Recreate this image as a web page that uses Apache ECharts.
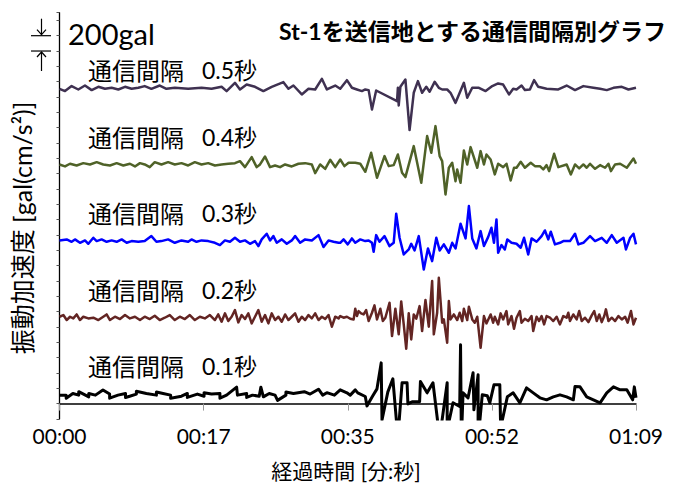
<!DOCTYPE html>
<html>
<head>
<meta charset="utf-8">
<title>St-1を送信地とする通信間隔別グラフ</title>
<script src="https://cdn.jsdelivr.net/npm/echarts@6/dist/echarts.min.js"></script>
<style>
    html, body { margin: 0; padding: 0; background: #fff; }
    #chart { width: 680px; height: 486px; }
</style>
</head>
<body>
<div id="chart"></div>
<script>
    // 経過時間 [s] と 振動加速度 [gal]（各系列の基線からの値）
    const t05 = [0, 0.66, 1.45, 2.25, 3.05, 3.85, 4.65, 5.44, 6.24, 7.04, 7.84, 8.63, 9.43, 10.2, 11.0, 12.0, 12.8, 13.8, 15.4, 17.0, 18.2, 19.4, 20.0, 21.0, 21.6, 22.4, 23.4, 24.4, 25.4, 26.8, 27.4, 28.0, 29.0, 29.8, 30.6, 31.4, 32.0, 33.0,
        33.6, 34.4, 35.0, 35.6, 36.2, 36.6, 37.0, 37.4, 37.9, 40.4, 40.5, 40.6, 40.8, 41.4, 41.9, 42.4, 42.9, 43.4, 43.9, 44.3, 44.9, 45.4, 45.8, 46.4, 46.8, 47.4, 48.4, 48.8, 49.4, 50.2,
        51.0, 51.8, 52.5, 53.1, 53.8, 54.3, 54.7, 55.3, 55.7, 56.3, 56.8, 57.3, 58.3, 59.7, 60.7, 61.7, 62.7, 63.9, 64.7, 65.5, 66.3, 67.3, 68.1, 69.0];
    const v05 = [-13, -43, 22, -22, 30, -30, 13, -13, 0, -22, 13, -13, 0, 22, -13, 30, -13, 0, -13, 0, -13, 13, -43, 65, -22, 43, 13, -43, 13, 74, -13, 30, -87, -13, -22, 117, -22, 30,
        -13, 100, 0, -22, -43, -22, -30, -283, -35, -174, 0, -230, 13, 109, -552, -65, 87, -65, 13, -52, 78, 0, -22, -22, -65, -196, 65, -130, 0, 0,
        -43, 22, 57, 43, -87, -13, -22, 30, -30, -22, 100, 13, -13, -22, 30, -30, 22, 0, -13, -30, 0, 13, -22, 0];

    const t04 = [0, 0.66, 1.26, 2.05, 2.85, 3.65, 4.45, 5.24, 6.04, 6.84, 7.64, 8.43, 9.03, 9.63, 10.2, 10.8, 11.4, 12.2, 13.0, 13.8, 14.6, 15.4, 16.2, 17.0, 17.8, 18.6, 19.4, 20.2, 21.0, 21.6,
        22.2, 23.0, 23.6, 24.0, 24.6, 25.2, 25.8, 26.4, 27.0, 27.8, 28.6, 29.4, 30.2, 30.6, 31.2, 31.8, 32.4, 33.0,
        33.6, 34.1, 34.6, 35.4, 36.0, 36.6, 37.3, 38.0, 38.9, 39.4, 40.0, 40.5, 41.0, 41.4, 42.4, 43.3, 44.0, 44.5, 45.0, 45.5, 45.8, 46.2, 46.6, 47.0, 47.4, 47.6, 48.0, 48.4, 48.8, 49.2,
        50.0, 50.4, 50.8, 51.1, 51.6, 52.1, 52.5, 53.1, 53.5, 54.0, 54.4, 54.7, 55.2, 55.7, 56.4, 56.9, 57.5, 57.9, 58.3, 58.6, 59.2, 59.7, 60.7, 61.2, 61.7, 62.2, 62.7, 63.1, 63.5, 64.1,
        64.7, 65.3, 65.7, 66.0, 66.5, 67.1, 67.9, 68.7, 69.0];
    const v04 = [0, -26, 9, -13, 17, 0, 30, 0, -13, 17, -13, 9, -26, 17, 0, -35, 30, 0, 30, 0, 17, -13, 30, 0, 17, -13, 0, 9, 17, 43,
        -35, 96, -35, 0, 104, -35, -13, -35, 0, -26, 9, 17, 0, -113, 0, -57, 61, -35,
        65, -22, 22, 22, 9, -96, 152, -174, 109, -22, -9, 130, -109, -165, 239, -239, 370, 152, 500, 109, 43, -392, -43, 22, -218, -65, -239, 183, 0, 226,
        -43, 174, 0, 130, 65, -130, 9, -35, 9, -209, -43, -43, 35, -43, 22, -22, -22, -65, -9, -87, 139, -35, 0, -130, 0, -52, 0, -43, 9, -57,
        -9, -43, 9, -87, 0, 9, -43, 78, 9];

    const t03 = [0, 0.86, 1.45, 1.85, 2.45, 3.05, 3.45, 4.05, 4.45, 5.04, 5.64, 6.24, 6.84, 7.44, 8.04, 8.63, 9.43, 10.2, 11.0, 11.6, 12.2, 13.0, 13.8, 14.6, 15.4, 15.8, 16.4, 17.0, 17.8, 18.6,
        19.2, 19.8, 20.4, 21.0, 21.6, 22.2, 22.8, 23.4, 23.8, 24.2, 24.8, 25.2, 25.6, 26.0, 26.6, 27.2, 27.8, 28.2, 28.8, 29.4, 30.2, 31.0, 31.6, 32.2, 32.8, 33.4,
        33.6, 34.0, 34.5, 35.0, 35.4, 36.0, 36.6, 37.0, 37.4, 37.6, 37.9, 38.3, 38.9, 39.5, 40.0, 40.3, 40.7, 41.2, 41.8, 42.1, 42.5, 43.0, 43.6, 44.1, 44.6, 45.1, 45.5, 46.0, 46.6, 47.0,
        47.4, 48.0, 48.6, 49.0, 49.4, 49.9, 50.4, 50.8, 51.3, 51.7, 52.0, 52.3, 52.5, 52.9, 53.3, 53.6, 54.1, 54.7, 55.2, 55.6, 56.1, 56.5, 57.1, 57.7, 58.1, 58.5, 58.8, 59.3, 59.9, 60.3,
        61.1, 61.7, 62.1, 62.7, 63.5, 64.1, 64.9, 65.5, 66.1, 66.7, 67.5, 67.8, 68.3, 68.7, 69.0];
    const v03 = [9, 22, -9, 22, -22, 9, -35, 43, 0, 22, -9, 9, -9, 22, -22, 0, -9, 0, 65, -9, 0, 22, -22, 9, -9, 22, -9, 9, 0, -22,
        -52, 9, -9, 43, -9, 9, -35, 0, -65, 22, 96, 9, 65, -22, 22, -35, 9, 65, -22, 22, 9, 78, -78, 9, -9, -22,
        -22, 22, -43, 35, -22, 22, 0, 9, -22, -139, 78, -9, 65, -65, -22, 357, 43, -174, -109, -35, -122, 65, -370, -96, -261, 43, -122, -43, -152, -22,
        -96, 226, 35, 457, 35, -96, 130, -65, 52, 174, -22, 283, -152, -52, -109, 22, -22, -35, -87, 43, -174, 35, -9, 65, 139, 22, 122, -43, -22, 0,
        0, 96, -43, -22, 65, 0, 43, -22, 78, -22, 43, -109, 43, 96, -43];

    const t02 = [0, 0.46, 0.86, 1.26, 1.65, 2.05, 2.45, 2.85, 3.45, 4.05, 4.65, 5.24, 5.64, 6.04, 6.64, 7.24, 7.84, 8.43, 9.03, 9.63, 10.2, 10.8, 11.4, 12.0, 12.6, 13.2, 13.8, 14.4, 15.0, 15.6,
        16.2, 16.8, 17.4, 18.0, 18.6, 19.0, 19.4, 19.8, 20.2, 20.6, 21.0, 21.4, 21.8, 22.2, 22.6, 23.0, 23.4, 23.8, 24.2, 24.6, 25.0, 25.4, 25.8, 26.2, 26.6, 27.0, 27.4, 27.8, 28.2, 28.6,
        29.0, 29.4, 29.8, 30.2, 30.6, 31.0, 31.4, 31.8, 32.2, 32.6, 33.0, 33.4,
        33.6, 34.0, 34.4, 34.8, 35.2, 35.4, 35.6, 35.8, 36.1, 36.4, 36.7, 37.0, 37.4, 37.7, 38.0, 38.4, 38.7, 39.0, 39.5, 39.8, 40.2, 40.6, 40.9, 41.2, 41.5, 41.8, 42.1, 42.4, 42.7, 43.1,
        43.4, 43.8, 44.2, 44.6, 44.8, 45.2, 45.4, 45.8, 46.0, 46.4, 46.6, 46.8, 47.2, 47.6, 47.9, 48.2, 48.4, 48.8, 49.0, 49.4, 49.7, 50.0, 50.4, 50.8, 51.1, 51.6, 51.9, 52.1, 52.5, 52.8,
        53.1, 53.5, 53.7, 54.1, 54.4, 54.7, 55.1, 55.3, 55.7, 56.1, 56.5, 56.7, 57.1, 57.4, 57.7, 58.0, 58.3, 58.7, 59.1, 59.5, 59.9, 60.3, 60.7, 60.9, 61.1, 61.5, 61.9, 62.2, 62.5, 62.9,
        63.3, 63.7, 64.0, 64.3, 64.6, 64.9, 65.2, 65.4, 65.7, 66.1, 66.5, 66.9, 67.3, 67.7, 68.0, 68.4, 68.7, 69.0];
    const v02 = [13, 35, -30, 13, -9, 43, -30, 13, -9, 0, -30, 13, 43, -30, 13, -17, 35, -9, 13, -30, 13, -17, 26, -30, 0, 35, -30, 13, -17, 35,
        -30, 13, -9, 35, -30, 43, -52, 57, -43, 13, 100, -61, 35, -17, 57, -74, 13, 100, -52, 35, -74, 57, -30, 13, -52, 43, -30, 13, 57, -52,
        13, -30, 35, -9, 57, -30, 13, -17, 35, -117, 13, -9,
        22, 0, 13, -13, -22, 117, 22, 87, 57, 43, 100, -43, 65, 161, -22, 117, -43, 0, 196, -239, 117, -217, 213, -87, -405, 57, -283, 43, -13, 152,
        -174, 231, -117, 479, -217, 65, 522, -65, -22, -326, 217, -22, 43, -30, 65, -43, 117, -30, 144, -22, -65, 13, -392, 22, -74, 43, -65, 13, -87, 57,
        -22, 87, -87, 22, -144, 0, 87, -65, -13, -43, 22, -174, 13, -43, 22, -87, 22, 0, -43, 13, -87, 22, 0, 65, -43, 43, -22, 87, -43, 0,
        -57, 30, 87, -43, 43, -57, 22, 109, -43, 0, -43, 22, -22, 13, -65, 87, -87, 0];

    const t01 = [0, 0.8, 0.8, 1.6, 2.3, 2.3, 3.5, 3.5, 4.3, 5.2, 6.0, 6.0, 7.0, 7.9, 7.9, 8.4, 9.2, 9.2, 10.4, 11.6, 11.6, 12.4, 13.3, 13.3, 14.6, 15.3, 15.3, 16.5, 17.3, 17.3,
        18.2, 19.2, 19.2, 20.0, 21.2, 21.3, 22.4, 22.4, 23.1, 23.9, 24.1, 24.4, 25.1, 25.8, 26.1, 27.1, 27.1, 28.0, 29.3, 30.0, 31.0, 31.5, 32.0, 32.9,
        33.6, 34.4, 34.8, 35.4, 35.7, 36.6, 36.8, 37.5, 38.0, 38.5, 38.6, 39.3, 39.9, 40.5, 41.0, 41.6, 41.7, 42.2, 43.1, 43.2, 44.0, 44.7, 45.5, 46.4, 46.4, 47.1, 47.9, 48.0, 48.1, 48.3,
        48.9, 49.5, 49.6, 50.1, 50.1, 50.6, 51.2, 51.5, 52.0, 52.7, 52.8, 53.6, 54.3, 55.1, 55.9, 56.7, 57.5, 58.3, 59.1, 59.9, 60.7, 61.5, 61.7, 62.3, 63.1, 63.9, 64.7, 65.5, 66.3, 67.1,
        67.9, 68.6, 68.8, 69.0];
    const v01 = [0, 0, -40, 22, 0, 45, -22, 22, 0, 68, 14, -40, 0, 22, -30, -14, 14, 50, 22, 0, 40, 22, 0, -40, -14, 22, -30, 14, -14, 30,
        14, 22, -40, 0, 104, 0, 22, -30, 0, -14, 104, -22, 22, 0, -68, 0, 40, 22, 45, 14, 77, 0, 32, 0,
        69, 30, 0, 69, 30, -18, -140, -9, 82, 421, -323, 43, 213, -558, 161, 161, -114, -87, -87, 177, 30, 161, -558, 161, -453, -100, -149, 656, -584, 30,
        -35, 291, -192, 265, -584, 4, -9, -100, 134, 134, -427, -22, 30, -100, 95, 30, -35, -61, -22, 4, -22, -61, 112, 108, -22, -61, -100, 30, 108, 69,
        69, -61, 108, -35];

    // 系列ごとの縦方向オフセット [gal]
    const seriesNames = ['通信間隔 0.5秒', '通信間隔 0.4秒', '通信間隔 0.3秒', '通信間隔 0.2秒', '通信間隔 0.1秒'];
    const intervals = ['0.5秒', '0.4秒', '0.3秒', '0.2秒', '0.1秒'];
    const offsets = [4120, 3120, 2120, 1120, 110];
    const colors = ['#3F3151', '#4F6228', '#0000FF', '#632523', '#000000'];
    const xTickLabels = ['00:00', '00:17', '00:35', '00:52', '01:09'];

    const FONT = 'Lato, "Noto Sans CJK JP", sans-serif';

    let chart = echarts.init(document.getElementById('chart'), null, { renderer: 'svg' });

    const times = [t05, t04, t03, t02, t01];
    const values = [v05, v04, v03, v02, v01];

    let series = times.map(function(t, k) {
        return {
            name: seriesNames[k],
            type: 'line',
            showSymbol: false,
            symbol: 'none',
            lineStyle: { color: colors[k], width: k === 4 ? 3 : 2.5, join: 'round' },
            z: 2 + k,
            data: t.map(function(x, i) {
                return [x, values[k][i] + offsets[k]];
            })
        };
    });

    let option = {
        animation: false,
        grid: { left: 59.5, right: 44, top: 12.7, bottom: 67.1, containLabel: false },
        xAxis: {
            type: 'value',
            min: 0,
            max: 69,
            interval: 17.25,
            axisLine: { onZero: true, lineStyle: { color: '#000', width: 1.5 } },
            axisTick: { show: true, inside: false, length: 7, lineStyle: { color: '#999', width: 1 } },
            axisLabel: {
                margin: 6,
                fontSize: 21,
                fontFamily: FONT,
                color: '#000',
                formatter: function(v) {
                    return xTickLabels[Math.round(v / 17.25)];
                }
            },
            splitLine: { show: false }
        },
        yAxis: {
            type: 'value',
            min: -200,
            max: 5100,
            interval: 200,
            axisLine: { show: true, lineStyle: { color: '#000', width: 1.3 } },
            axisTick: { show: true, inside: false, length: 3, lineStyle: { color: '#555' } },
            axisLabel: { show: false },
            splitLine: { show: false }
        },
        series: series
    };
    chart.setOption(option);

    // 200gal スケール（4800 と 4600 の位置）
    const yTop = chart.convertToPixel({ yAxisIndex: 0 }, 4800);
    const yBot = chart.convertToPixel({ yAxisIndex: 0 }, 4600);
    const ax = 41.5;
    const lineStyle = { stroke: '#000', lineWidth: 1.2, fill: null };

    const labelY = [70, 137, 213, 290, 366];

    let graphic = [
        { type: 'line', shape: { x1: 31, y1: yTop, x2: 51, y2: yTop }, style: lineStyle, silent: true },
        { type: 'line', shape: { x1: 31, y1: yBot, x2: 51, y2: yBot }, style: lineStyle, silent: true },
        { type: 'line', shape: { x1: ax, y1: yTop - 17, x2: ax, y2: yTop - 1 }, style: lineStyle, silent: true },
        { type: 'polyline', shape: { points: [[ax - 4.5, yTop - 6], [ax, yTop - 1], [ax + 4.5, yTop - 6]] }, style: lineStyle, silent: true },
        { type: 'line', shape: { x1: ax, y1: yBot + 1, x2: ax, y2: yBot + 20 }, style: lineStyle, silent: true },
        { type: 'polyline', shape: { points: [[ax - 4.5, yBot + 6], [ax, yBot + 1], [ax + 4.5, yBot + 6]] }, style: lineStyle, silent: true },
        {
            type: 'text', x: 68, y: 33,
            style: { text: '200gal', font: '29px ' + FONT, fill: '#000', textAlign: 'left', textVerticalAlign: 'middle' }
        },
        {
            type: 'text', x: 666, y: 31,
            style: { text: 'St-1を送信地とする通信間隔別グラフ', font: 'bold 23px ' + FONT, fill: '#000', textAlign: 'right', textVerticalAlign: 'middle' }
        },
        {
            type: 'text', x: 346, y: 470,
            style: { text: '経過時間 [分:秒]', font: '21px ' + FONT, fill: '#000', textAlign: 'center', textVerticalAlign: 'middle' }
        },
        {
            type: 'text', x: 22, y: 228, rotation: Math.PI / 2,
            style: { text: '振動加速度 [gal(cm/s²)]', font: '25px ' + FONT, fill: '#000', textAlign: 'center', textVerticalAlign: 'middle' }
        }
    ];

    intervals.forEach(function(s, k) {
        graphic.push({
            type: 'text', x: 88, y: labelY[k],
            style: { text: '通信間隔', font: '24px ' + FONT, fill: '#000', textAlign: 'left', textVerticalAlign: 'middle' }
        });
        graphic.push({
            type: 'text', x: 202, y: labelY[k],
            style: { text: s, font: '23px ' + FONT, fill: '#000', textAlign: 'left', textVerticalAlign: 'middle' }
        });
    });

    chart.setOption({ graphic: graphic });
</script>
</body>
</html>
